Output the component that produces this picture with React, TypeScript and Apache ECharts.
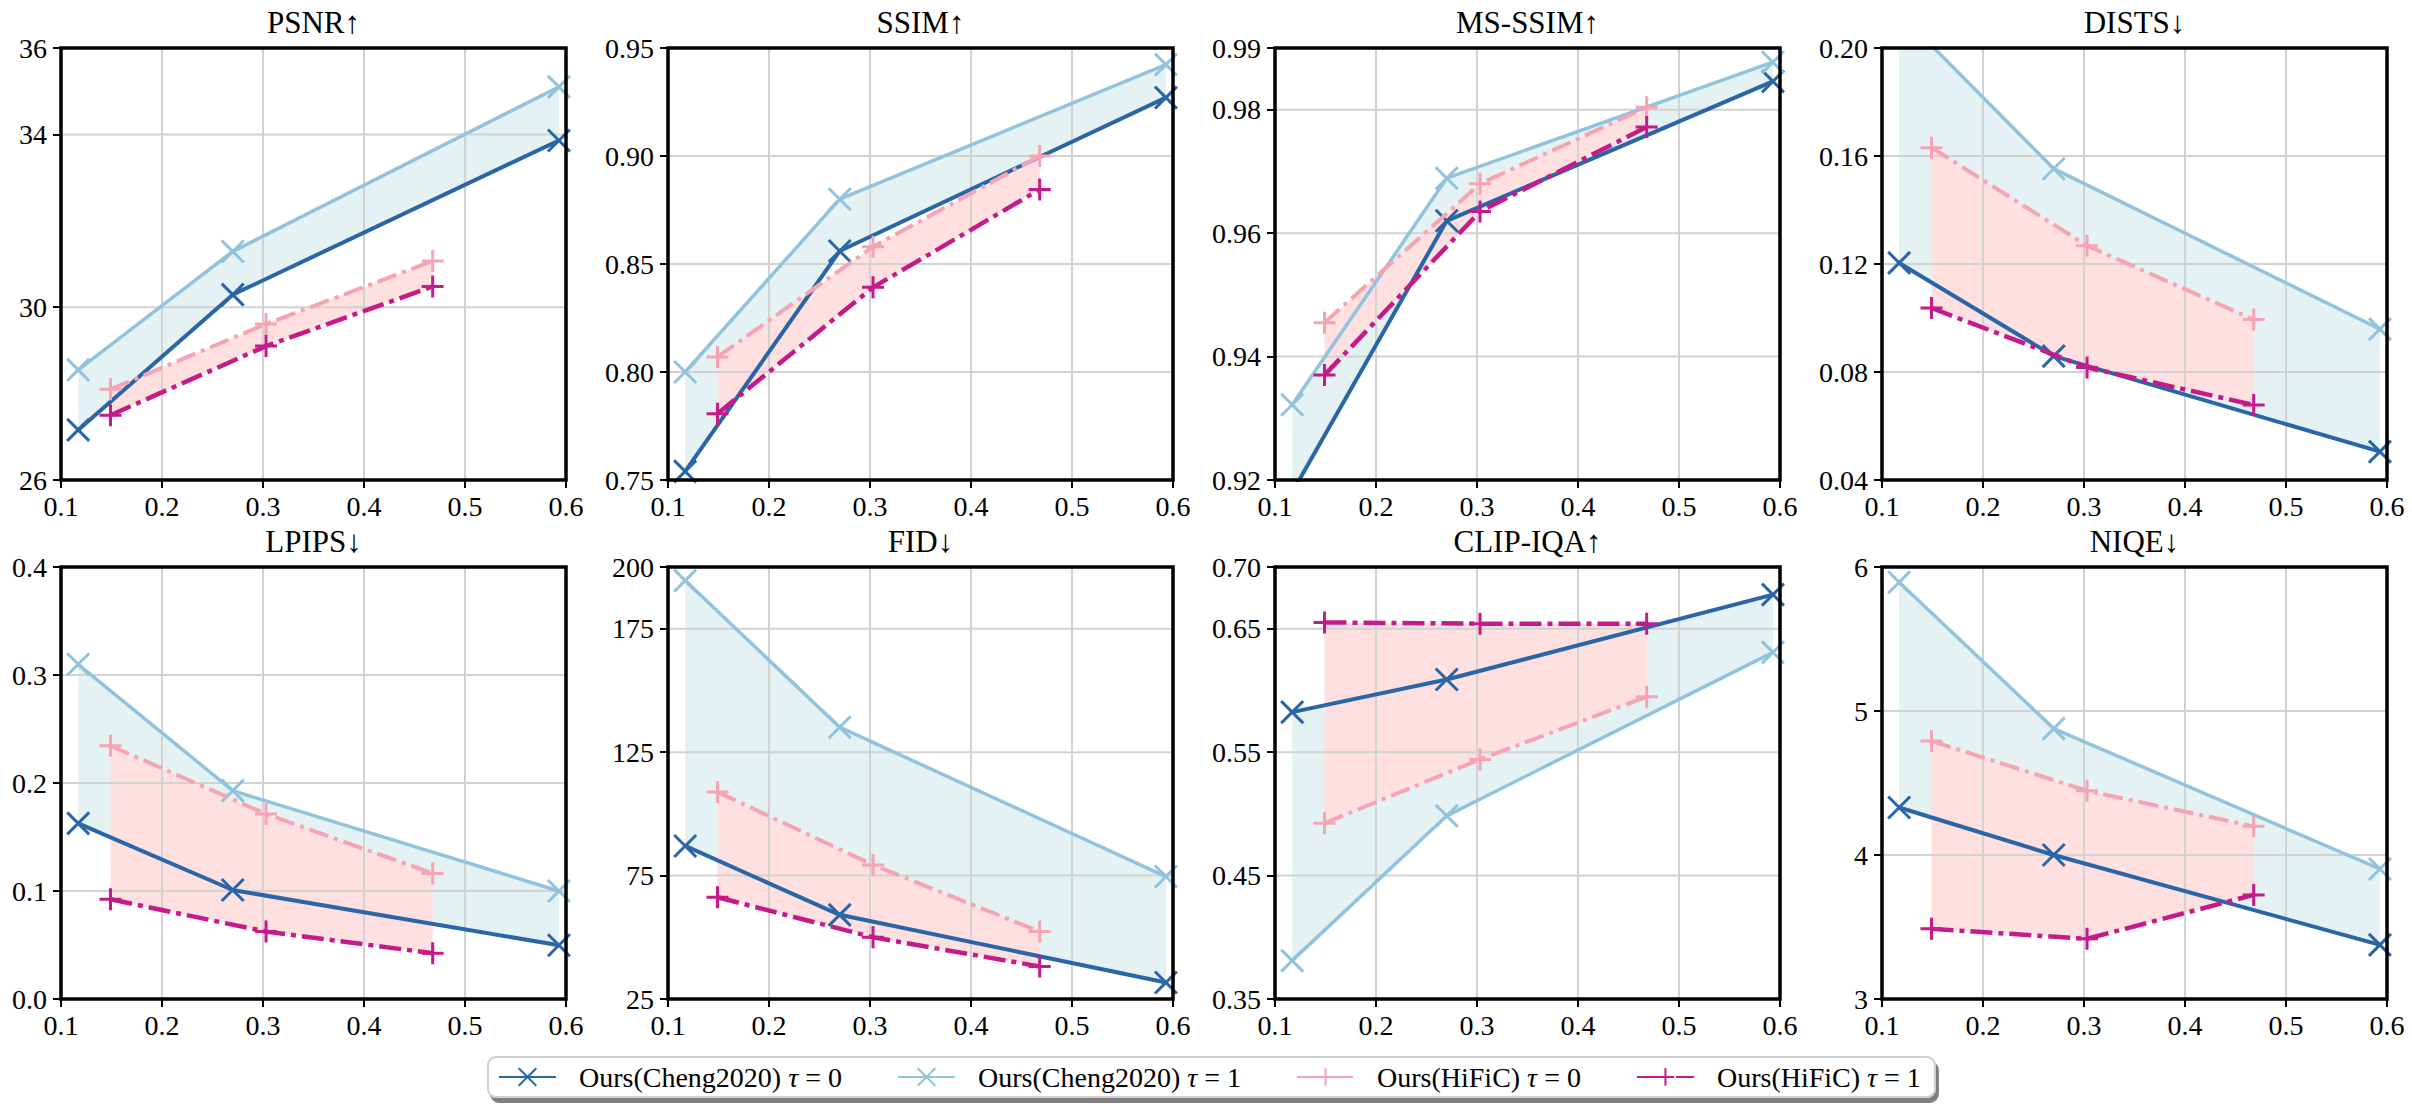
import React, { useEffect, useRef } from "react";
import * as echarts from "echarts";

// ---------- data ----------
const X_CHENG = [0.117, 0.27, 0.593];
const X_HIFIC = [0.149, 0.303, 0.468];
const X_TICKS = [0.1, 0.2, 0.3, 0.4, 0.5, 0.6];

const METRICS = ["PSNR↑", "SSIM↑", "MS-SSIM↑", "DISTS↓", "LPIPS↓", "FID↓", "CLIP-IQA↑", "NIQE↓"];

const CHENG_T0 = [
  [27.16, 30.29, 33.86],
  [0.754, 0.856, 0.927],
  [0.918, 0.962, 0.9846],
  [0.1204, 0.0859, 0.0505],
  [0.1626, 0.1009, 0.0498],
  [87.0, 59.1, 31.7],
  [0.5824, 0.6089, 0.6776],
  [4.33, 4.0, 3.376],
];
const CHENG_T1 = [
  [28.55, 31.29, 35.1],
  [0.8, 0.88, 0.9423],
  [0.9322, 0.9689, 0.9877],
  [0.213, 0.1553, 0.0959],
  [0.3099, 0.1929, 0.1],
  [194.5, 135.1, 74.6],
  [0.3811, 0.4984, 0.6308],
  [5.894, 4.878, 3.903],
];
const HIFIC_T0 = [
  [28.1, 29.61, 31.07],
  [0.807, 0.858, 0.9],
  [0.9455, 0.968, 0.9804],
  [0.1631, 0.1268, 0.0994],
  [0.2345, 0.1713, 0.1163],
  [108.9, 79.3, 52.3],
  [0.4924, 0.5441, 0.5949],
  [4.792, 4.446, 4.199],
];
const HIFIC_T1 = [
  [27.5, 29.1, 30.48],
  [0.7807, 0.8392, 0.8845],
  [0.937, 0.9635, 0.9772],
  [0.1037, 0.0817, 0.0678],
  [0.0923, 0.0624, 0.0424],
  [66.2, 50.0, 38.2],
  [0.6551, 0.6541, 0.6541],
  [3.487, 3.418, 3.723],
];
const Y_TICKS = [
  [26, 30, 34, 36],
  [0.75, 0.8, 0.85, 0.9, 0.95],
  [0.92, 0.94, 0.96, 0.98, 0.99],
  [0.04, 0.08, 0.12, 0.16, 0.2],
  [0.0, 0.1, 0.2, 0.3, 0.4],
  [25, 75, 125, 175, 200],
  [0.35, 0.45, 0.55, 0.65, 0.7],
  [3, 4, 5, 6],
];
const Y_DECIMALS = [0, 2, 2, 2, 1, 0, 2, 0];
const SERIES_NAMES = [
  "Ours(Cheng2020) τ = 0",
  "Ours(Cheng2020) τ = 1",
  "Ours(HiFiC) τ = 0",
  "Ours(HiFiC) τ = 1",
];

// ---------- style / layout ----------
const FONT = '"Liberation Serif", "DejaVu Serif", serif';
const COL_LEFT = [61, 668, 1275, 1882];
const ROW_TOP = [48, 567];
const PANEL_W = 505;
const PANEL_H = 432;
const TITLE_Y = [22, 541];

const DARK_BLUE = "#2a66a7";
const LIGHT_BLUE = "#92c3dc";
const PINK = "#f6a3b6";
const MAGENTA = "#c51b8a";
const TEAL_FILL = "#e4f2f3";
const PINK_FILL = "#fde0df";
const GRID_COLOR = "#d2d2d2";

const X_SYM = "path://M0,0L10,10M10,0L0,10";
const PLUS_SYM = "path://M5,0L5,10M0,5L10,5";

const LINE_DEFS = [
  { xs: X_CHENG, ys: CHENG_T0, color: DARK_BLUE, width: 4, dash: "solid" as any, symbol: X_SYM },
  { xs: X_CHENG, ys: CHENG_T1, color: LIGHT_BLUE, width: 3.5, dash: "solid" as any, symbol: X_SYM },
  { xs: X_HIFIC, ys: HIFIC_T0, color: PINK, width: 4, dash: [20, 6, 4, 6], symbol: PLUS_SYM },
  { xs: X_HIFIC, ys: HIFIC_T1, color: MAGENTA, width: 4.5, dash: [22, 6, 5, 6], symbol: PLUS_SYM },
];

function buildOption() {
  const grids: any[] = [];
  const xAxes: any[] = [];
  const yAxes: any[] = [];
  const series: any[] = [];
  const graphics: any[] = [];

  for (let i = 0; i < 8; i++) {
    const r = Math.floor(i / 4);
    const c = i % 4;
    const yt = Y_TICKS[i];
    const ymin = yt[0];
    const ymax = yt[yt.length - 1];
    const dec = Y_DECIMALS[i];

    grids.push({ left: COL_LEFT[c], top: ROW_TOP[r], width: PANEL_W, height: PANEL_H, containLabel: false });

    xAxes.push({
      gridIndex: i,
      type: "value",
      min: 0.1,
      max: 0.6,
      interval: 0.1,
      axisLine: { show: false },
      splitLine: { show: false },
      axisTick: { show: true, length: 8, lineStyle: { color: "#000", width: 2 } },
      axisLabel: {
        formatter: (v: number) => v.toFixed(1),
        margin: 12,
        fontFamily: FONT,
        fontSize: 28,
        color: "#000",
      },
    });

    yAxes.push({
      gridIndex: i,
      type: "value",
      min: ymin,
      max: ymax,
      axisLine: { show: false },
      splitLine: { show: false },
      axisTick: { show: true, customValues: yt, length: 8, lineStyle: { color: "#000", width: 2 } },
      axisLabel: {
        customValues: yt,
        formatter: (v: number) => v.toFixed(dec),
        margin: 14,
        fontFamily: FONT,
        fontSize: 28,
        color: "#000",
      },
    });

    // fills between tau curves
    series.push({
      type: "custom",
      xAxisIndex: i,
      yAxisIndex: i,
      z: 1,
      clip: true,
      silent: true,
      data: [[0.1, ymin]],
      renderItem: (_p: any, api: any) => {
        const poly = (xs: number[], a: number[], b: number[]) =>
          xs
            .map((x, k) => api.coord([x, a[k]]))
            .concat(xs.map((x, k) => api.coord([x, b[k]])).reverse());
        return {
          type: "group",
          children: [
            { type: "polygon", shape: { points: poly(X_CHENG, CHENG_T0[i], CHENG_T1[i]) }, style: { fill: TEAL_FILL } },
            { type: "polygon", shape: { points: poly(X_HIFIC, HIFIC_T0[i], HIFIC_T1[i]) }, style: { fill: PINK_FILL } },
          ],
        };
      },
    });

    // grid lines
    series.push({
      type: "custom",
      xAxisIndex: i,
      yAxisIndex: i,
      z: 2,
      clip: true,
      silent: true,
      data: [[0.1, ymin]],
      renderItem: (_p: any, api: any) => {
        const children: any[] = [];
        yt.forEach((v) => {
          const a = api.coord([0.1, v]);
          const b = api.coord([0.6, v]);
          children.push({ type: "line", shape: { x1: a[0], y1: a[1], x2: b[0], y2: b[1] }, style: { stroke: GRID_COLOR, lineWidth: 2 } });
        });
        X_TICKS.forEach((v) => {
          const a = api.coord([v, ymin]);
          const b = api.coord([v, ymax]);
          children.push({ type: "line", shape: { x1: a[0], y1: a[1], x2: b[0], y2: b[1] }, style: { stroke: GRID_COLOR, lineWidth: 2 } });
        });
        return { type: "group", children };
      },
    });

    // curves
    LINE_DEFS.forEach((d, k) => {
      series.push({
        type: "line",
        name: SERIES_NAMES[k],
        xAxisIndex: i,
        yAxisIndex: i,
        z: 3 + k * 0.1,
        clip: true,
        silent: true,
        data: d.xs.map((x, j) => [x, d.ys[i][j]]),
        symbol: d.symbol,
        symbolSize: 22,
        showSymbol: true,
        lineStyle: { color: d.color, width: d.width, type: d.dash, cap: "butt" },
        itemStyle: { color: d.color, borderColor: d.color, borderWidth: 3 },
        emphasis: { disabled: true },
      });
    });

    // frame
    series.push({
      type: "custom",
      xAxisIndex: i,
      yAxisIndex: i,
      z: 6,
      clip: false,
      silent: true,
      data: [[0.1, ymin]],
      renderItem: (_p: any, api: any) => {
        const a = api.coord([0.1, ymax]);
        const b = api.coord([0.6, ymin]);
        return {
          type: "rect",
          shape: { x: a[0], y: a[1], width: b[0] - a[0], height: b[1] - a[1] },
          style: { fill: "none", stroke: "#000", lineWidth: 3.5 },
        };
      },
    });

    graphics.push({
      type: "text",
      x: COL_LEFT[c] + PANEL_W / 2,
      y: TITLE_Y[r],
      silent: true,
      style: {
        text: METRICS[i],
        fontFamily: FONT,
        fontSize: 31,
        fill: "#000",
        align: "center",
        verticalAlign: "middle",
      },
    });
  }

  return {
    animation: false,
    backgroundColor: "#fff",
    grid: grids,
    xAxis: xAxes,
    yAxis: yAxes,
    series,
    graphic: graphics,
    legend: {
      data: SERIES_NAMES,
      left: 488,
      top: 1057,
      orient: "horizontal",
      itemWidth: 57,
      itemHeight: 22,
      itemGap: 55,
      padding: [6, 14, 6, 10],
      backgroundColor: "#fff",
      borderColor: "#cfcfcf",
      borderWidth: 2,
      borderRadius: 8,
      shadowColor: "rgba(0,0,0,0.5)",
      shadowOffsetX: 3,
      shadowOffsetY: 5,
      shadowBlur: 0,
      selectedMode: false,
      formatter: (name: string) => name.replace("τ", "{t|τ}"),
      textStyle: {
        fontFamily: FONT,
        fontSize: 28,
        color: "#000",
        padding: [0, 0, 0, 18],
        rich: {
          t: { fontStyle: "italic", fontFamily: FONT, fontSize: 28, color: "#000" },
        },
      },
    },
  };
}

export default function App() {
  const ref = useRef<HTMLDivElement>(null);
  useEffect(() => {
    if (!ref.current) return;
    const chart = echarts.init(ref.current, undefined, { renderer: "svg" });
    chart.setOption(buildOption() as any);
    return () => chart.dispose();
  }, []);
  return (
    <div
      ref={ref}
      style={{ position: "fixed", left: 0, top: 0, width: 2412, height: 1120, background: "#fff" }}
    />
  );
}
